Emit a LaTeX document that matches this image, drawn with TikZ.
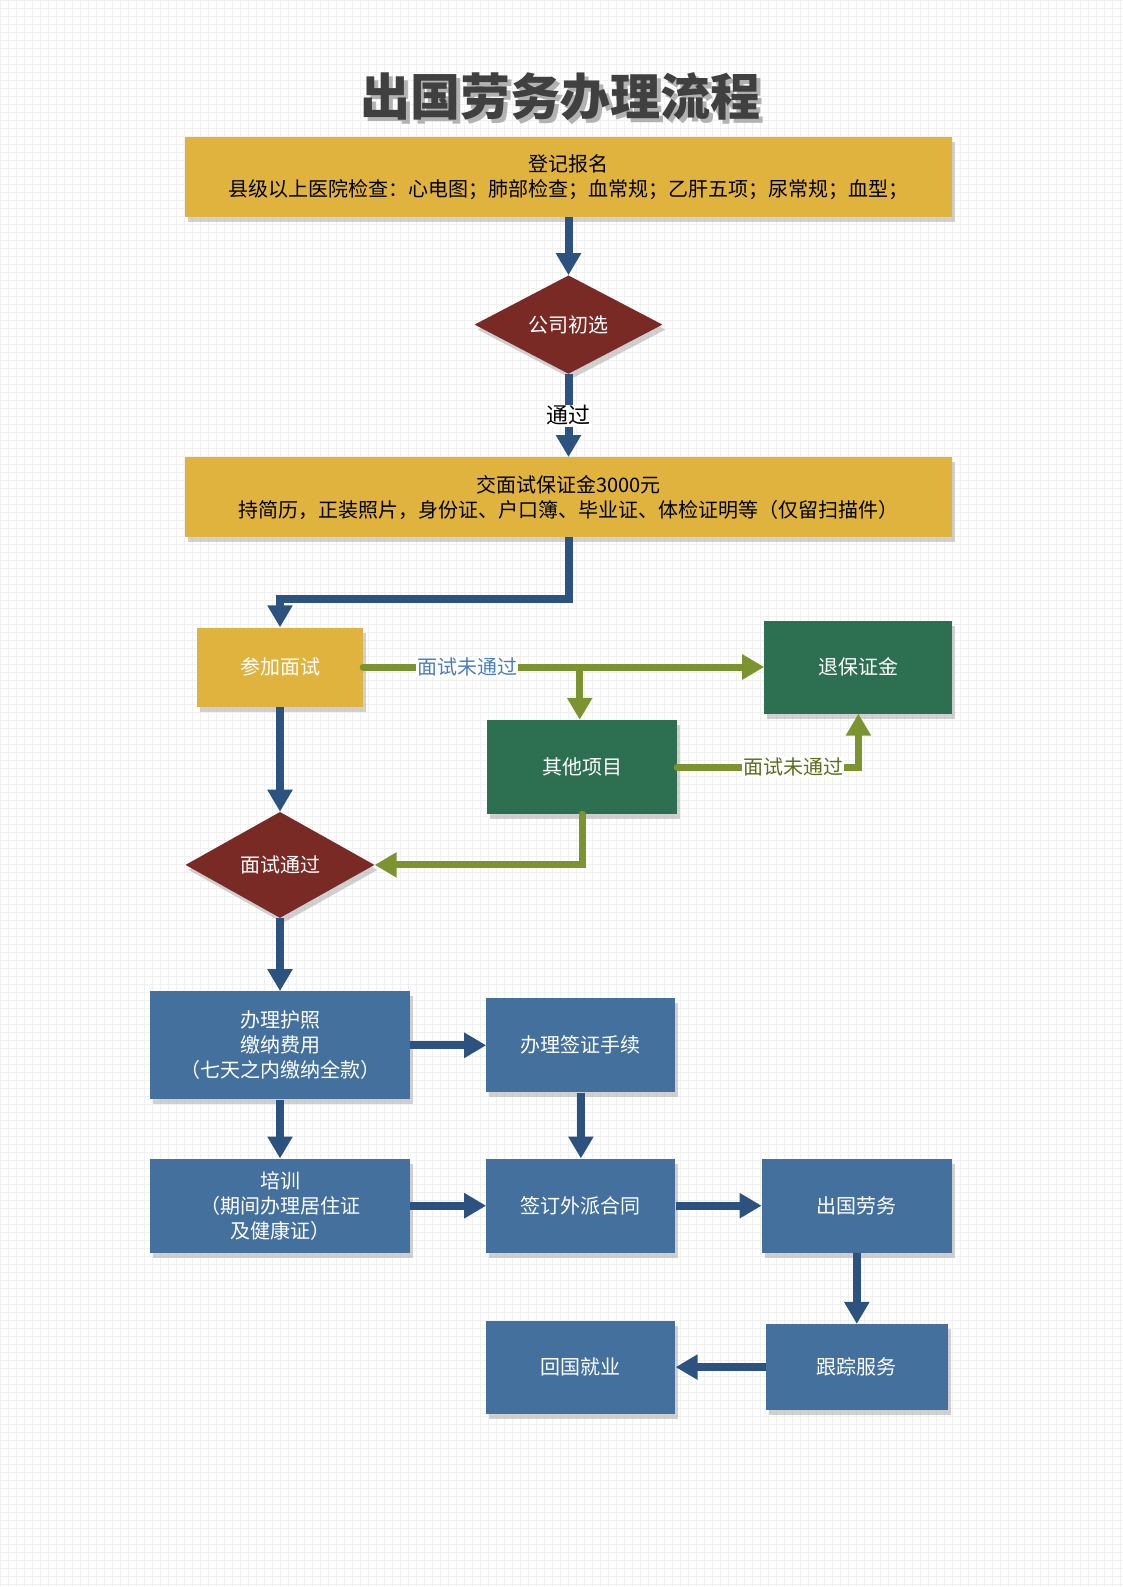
\documentclass[tikz,border=0pt]{standalone}
\usepackage{fontspec}
\setmainfont{Noto Sans CJK SC}
\usepackage{tikz}
\usetikzlibrary{positioning, shapes.geometric, arrows.meta, shadows}

\definecolor{gold}{HTML}{DFB33E}
\definecolor{wine}{HTML}{7A2A24}
\definecolor{pine}{HTML}{2D7051}
\definecolor{steel}{HTML}{44709E}
\definecolor{navy}{HTML}{2C5380}
\definecolor{moss}{HTML}{7B9430}
\definecolor{skyText}{HTML}{4A7EBB}
\definecolor{mossText}{HTML}{5C6D1C}

\tikzset{
	base/.style={inner sep=2pt, align=center, font=\fontsize{20pt}{25pt}\selectfont,
		drop shadow={shadow xshift=3pt, shadow yshift=-5pt, fill=black!30, opacity=0.6}},
	yelbox/.style={base, rectangle, fill=gold, text=black},
	yelsmall/.style={base, rectangle, fill=gold, text=white},
	grnbox/.style={base, rectangle, fill=pine, text=white},
	blubox/.style={base, rectangle, fill=steel, text=white},
	decide/.style={base, diamond, fill=wine, text=white, inner sep=0pt},
	flow/.style={draw=navy, line width=8pt, -{Triangle[width=24pt,length=22pt]}},
	go/.style={draw=moss, line width=7pt, -{Triangle[width=24pt,length=22pt]}},
	cut/.style={fill=white, inner sep=1pt, font=\fontsize{20pt}{24pt}\selectfont},
	gridline/.style={draw=black!6, line width=0.6pt}
}

\begin{document}
\begin{tikzpicture}[x=1pt, y=-1pt]
	\useasboundingbox (0,0) rectangle (1123,1587);
	\fill[white] (0,0) rectangle (1123,1587);
	\draw[gridline, step=8pt] (0,0) grid (1123,1587);

	\node[text=black!30, font=\fontsize{50pt}{60pt}\selectfont\bfseries] (shade) at (564,101) {出国劳务办理流程};
	\node[text=black!75, font=\fontsize{50pt}{60pt}\selectfont\bfseries] (title) at (560,97) {出国劳务办理流程};

	\node[yelbox, minimum width=767pt, minimum height=80pt] (reg) at (568.5,177)
		{登记报名\\县级以上医院检查：心电图；肺部检查；血常规；乙肝五项；尿常规；血型；};
	\node[decide, minimum width=188pt, minimum height=92pt, below=58pt of reg] (pre) {公司初选};
	\node[yelbox, minimum width=767pt, minimum height=80pt, below=83pt of pre] (dep)
		{交面试保证金3000元\\持简历，正装照片，身份证、户口簿、毕业证、体检证明等（仅留扫描件）};

	\node[yelsmall, minimum width=166pt, minimum height=79pt] (join) at (280,667) {参加面试};
	\node[grnbox, minimum width=188pt, minimum height=93pt, right=401pt of join] (refund) {退保证金};
	\node[grnbox, minimum width=190pt, minimum height=94pt] (other) at (582,767) {其他项目};
	\node[decide, minimum width=189pt, minimum height=106pt, below=105pt of join] (pass) {面试通过};

	\node[blubox, minimum width=260pt, minimum height=108pt, below=73pt of pass] (passport)
		{办理护照\\缴纳费用\\（七天之内缴纳全款）};
	\node[blubox, minimum width=189pt, minimum height=94pt, right=76pt of passport] (visa) {办理签证手续};
	\node[blubox, minimum width=260pt, minimum height=94pt, below=59pt of passport] (train)
		{培训\\（期间办理居住证\\及健康证）};
	\node[blubox, minimum width=189pt, minimum height=94pt, right=76pt of train] (contract) {签订外派合同};
	\node[blubox, minimum width=190pt, minimum height=94pt, right=86pt of contract] (abroad) {出国劳务};
	\node[blubox, minimum width=182pt, minimum height=86pt, below=71pt of abroad] (track) {跟踪服务};
	\node[blubox, minimum width=189pt, minimum height=93pt, left=90pt of track] (back) {回国就业};

	\path (join.east) -- (refund.west) coordinate[pos=0.54] (fork);

	\draw[flow] (reg) -- (pre);
	\draw[flow] (pre) -- node[cut, text=black, font=\fontsize{22pt}{26pt}\selectfont] {通过} (dep);
	\draw[flow] (dep.south) -- ++(0pt,-62pt) -| (join.north);
	\draw[go, line cap=round] (join.east) -- node[cut, text=skyText, pos=0.26] {面试未通过} (refund.west);
	\draw[go] (fork) -- (fork |- other.north);
	\draw[go, line cap=round] (other.east) -| node[cut, text=mossText, pos=0.32] {面试未通过} (refund.south);
	\draw[go, line cap=round] (other.south) |- (pass.east);
	\draw[flow] (join) -- (pass);
	\draw[flow] (pass) -- (passport);
	\draw[flow] (passport) -- (visa);
	\draw[flow] (passport) -- (train);
	\draw[flow] (visa) -- (contract);
	\draw[flow] (train) -- (contract);
	\draw[flow] (contract) -- (abroad);
	\draw[flow] (abroad) -- (track);
	\draw[flow] (track) -- (back);
\end{tikzpicture}
\end{document}
